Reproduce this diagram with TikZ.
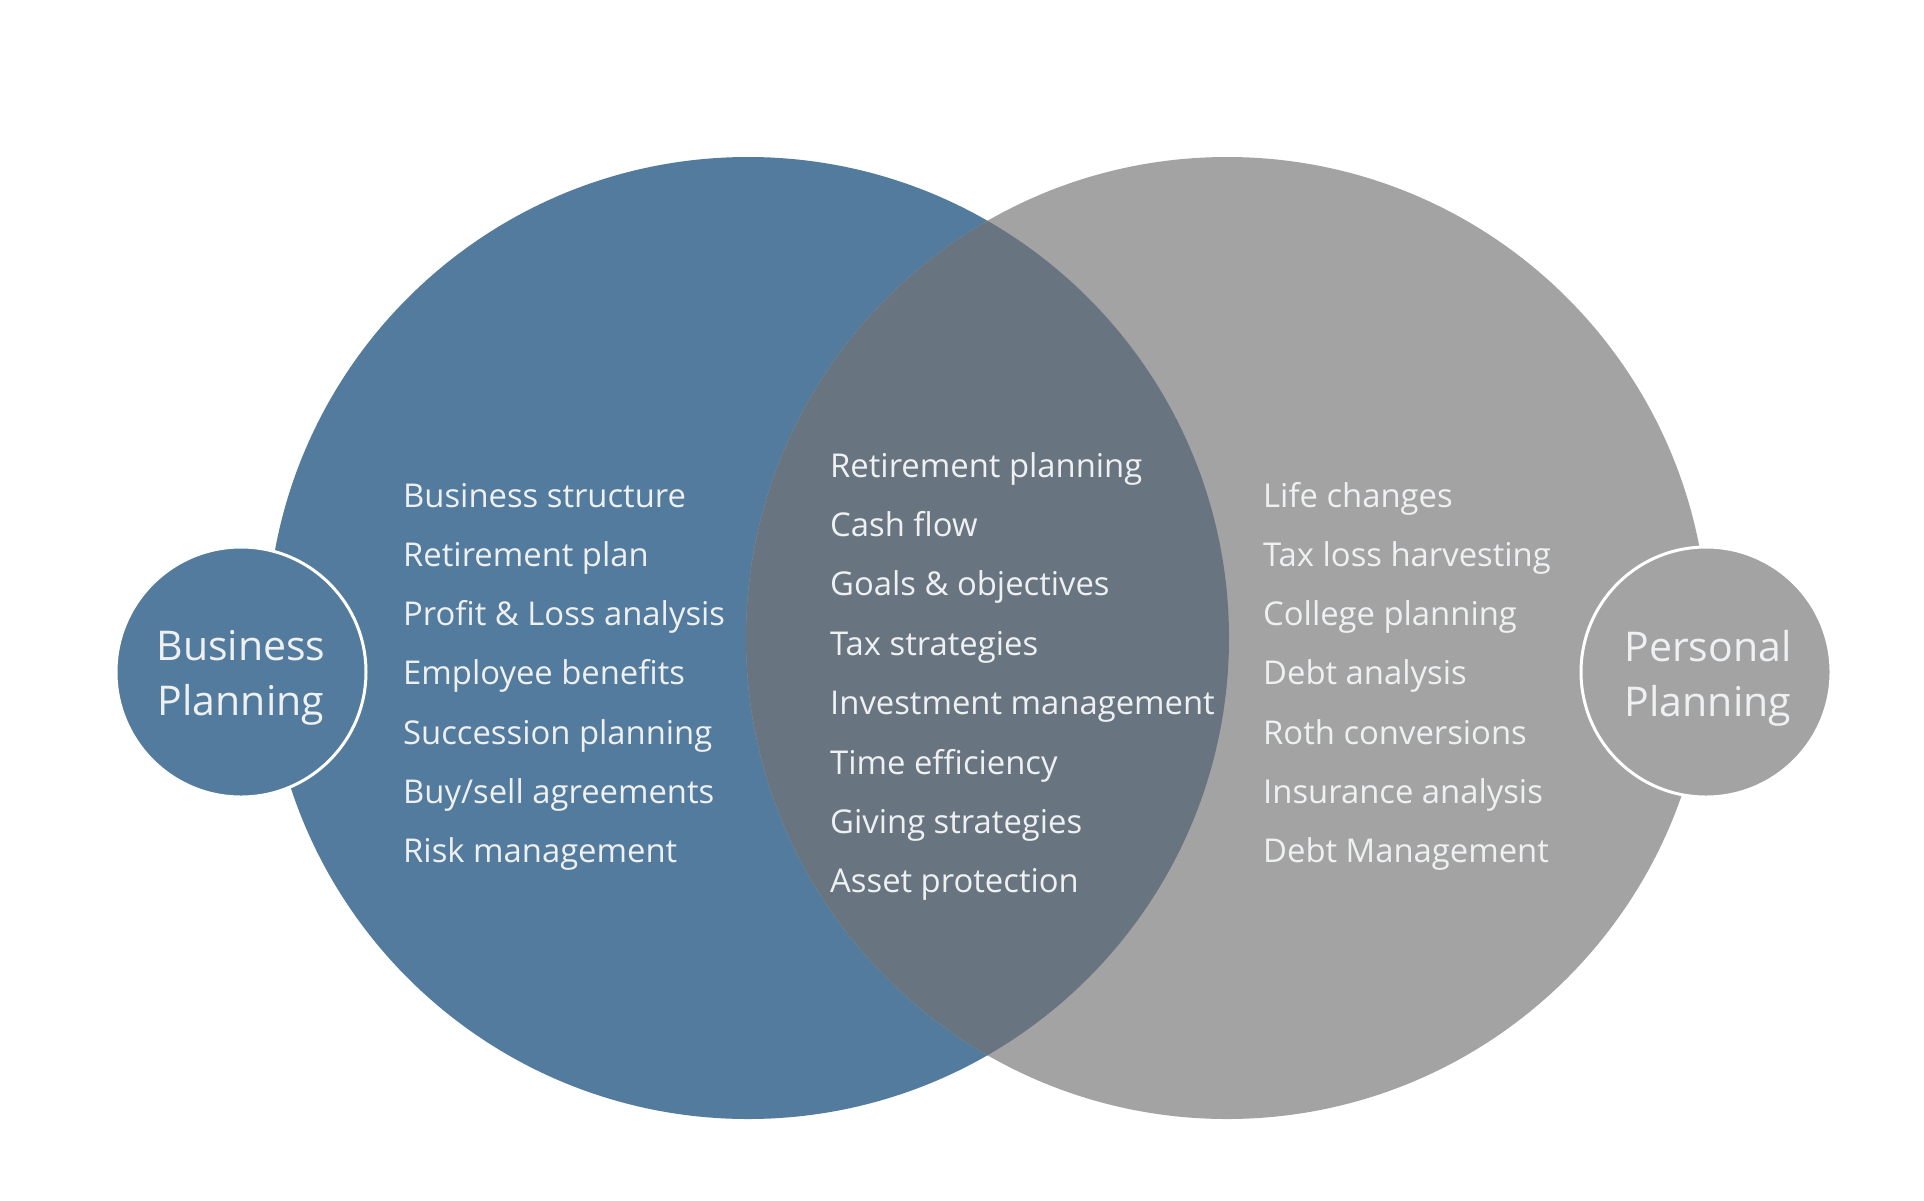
\documentclass[tikz,border=0pt]{standalone}
\usepackage{fontspec}
\setmainfont{Open Sans}
\definecolor{bizblue}{HTML}{527B9D}
\definecolor{persgrey}{HTML}{A3A3A3}
\definecolor{overlapc}{HTML}{687580}
\definecolor{txtc}{HTML}{EEF0F2}
\tikzset{
  bigcirc/.style={circle, minimum size=962pt, inner sep=0pt},
  smallcirc/.style={circle, minimum size=250pt, inner sep=0pt, draw=white, line width=3pt, text=txtc, align=center, font=\fontsize{41}{55}\selectfont},
  item/.style={anchor=base west, inner sep=0pt, text=txtc, font=\fontsize{32.8}{40}\selectfont}
}
\begin{document}
\begin{tikzpicture}[x=1pt,y=-1pt]
\useasboundingbox (0,0) rectangle (1924,1200);
\fill[white] (0,0) rectangle (1924,1200);
% big circles
\node[bigcirc, fill=bizblue] (bigL) at (748,638) {};
\node[bigcirc, fill=persgrey] (bigR) at (1227,638) {};
\begin{scope}
  \clip (748,638) circle (481);
  \fill[overlapc] (1227,638) circle (481);
\end{scope}
% small circles
\node[smallcirc, fill=bizblue] (biz) at (241,672) {};
\node[smallcirc, fill=persgrey] (pers) at (1706,672) {};
\node[text=txtc, align=center, font=\fontsize{41}{55}\selectfont, inner sep=0pt] (bizt) at (241,678) {Business\\Planning};
\node[text=txtc, align=center, font=\fontsize{41}{55}\selectfont, inner sep=0pt] (perst) at (1708,678) {Personal\\Planning};
% left list
\foreach \t [count=\i] in {Business structure, Retirement plan, Profit \& Loss analysis, Employee benefits, Succession planning, Buy/sell agreements, Risk management}
  \node[item] (l\i) at (403,{507+59.3*(\i-1)}) {\t};
% middle list
\foreach \t [count=\i] in {Retirement planning, Cash flow, Goals \& objectives, Tax strategies, Investment management, Time efficiency, Giving strategies, Asset protection}
  \node[item] (m\i) at (830,{477+59.4*(\i-1)}) {\t};
% right list
\foreach \t [count=\i] in {Life changes, Tax loss harvesting, College planning, Debt analysis, Roth conversions, Insurance analysis, Debt Management}
  \node[item] (r\i) at (1263,{507+59.3*(\i-1)}) {\t};
\end{tikzpicture}
\end{document}
